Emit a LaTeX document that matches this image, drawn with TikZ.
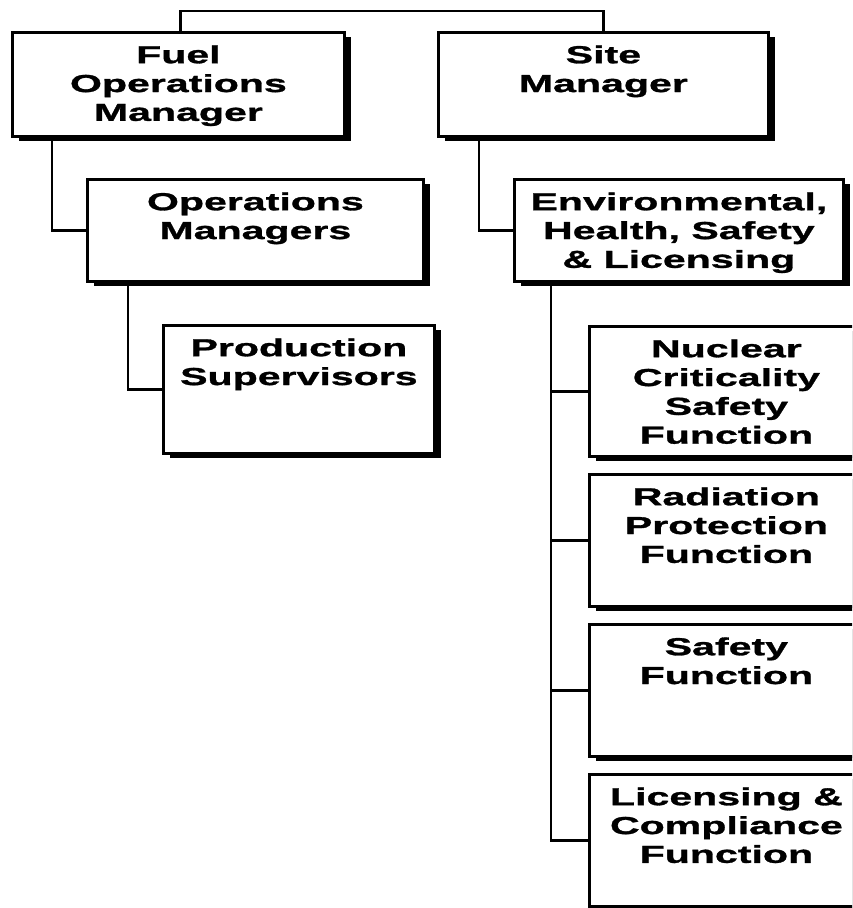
\documentclass[tikz,border=0pt]{standalone}
\usepackage{fontspec}
\newfontfamily\orgfont[FakeStretch=1.67,FakeBold=1.2]{Liberation Sans}
\usepackage{tikz}
\usetikzlibrary{positioning,calc,shadows}
\newlength{\px}
\setlength{\px}{0.02cm}
\newcommand{\boxlines}[3]{%
  \begin{minipage}[c][#2\px][t]{#1\px}\centering
  \vspace*{13\px}#3\end{minipage}}

\begin{document}
\begin{tikzpicture}[
    x=0.02cm, y=-0.02cm,
    box/.style = {
        rectangle,
        draw=black,
        line width=1.6pt,
        fill=white,
        inner sep=0pt,
        anchor=north west,
        drop shadow={shadow xshift=0.14cm, shadow yshift=-0.1cm, fill=black, opacity=1},
        font=\orgfont\bfseries\fontsize{14pt}{16.4pt}\selectfont
    },
    link/.style = {line width=1.6pt, draw=black}
]
\useasboundingbox (0,0) rectangle (852,908);
\clip (0,0) rectangle (852,908);

\node[box] (fuel) at (11,31) {\boxlines{332}{104}{Fuel\\Operations\\Manager}};
\node[box] (site) at (437,31) {\boxlines{330}{104}{Site\\Manager}};

\node[box] (opsmgr) at (86,178) {\boxlines{336}{102}{Operations\\Managers}};
\node[box] (ehs) at (513,178) {\boxlines{329}{102}{Environmental,\\Health, Safety\\\& Licensing}};

\node[box] (prodsup) at (162,324) {\boxlines{271}{128}{Production\\Supervisors}};

\node[box] (nuclear) at (588,325) {\boxlines{274}{130}{Nuclear\\Criticality\\Safety\\Function}};
\node[box] (radiation) at (588,473) {\boxlines{274}{132}{Radiation\\Protection\\Function}};
\node[box] (safety) at (588,623) {\boxlines{274}{132}{Safety\\Function}};
\node[box] (licensing) at (588,773) {\boxlines{274}{132}{Licensing \&\\Compliance\\Function}};

\draw[link] ([xshift=0.04cm]fuel.north) -- ++(0,-20) -| (site.north);
\draw[link] ($(fuel.south west)+(41,0)$) |- (opsmgr.west);
\draw[link] ($(opsmgr.south west)+(42,0)$) |- (prodsup.west);
\draw[link] ($(site.south west)+(42,0)$) |- (ehs.west);

\coordinate (trunk) at ($(ehs.south west)+(38,0)$);
\draw[link] (trunk) |- (licensing.west);
\foreach \f in {nuclear,radiation,safety}
    \draw[link] (\f.west) -- (\f.west -| trunk);

\end{tikzpicture}
\end{document}
